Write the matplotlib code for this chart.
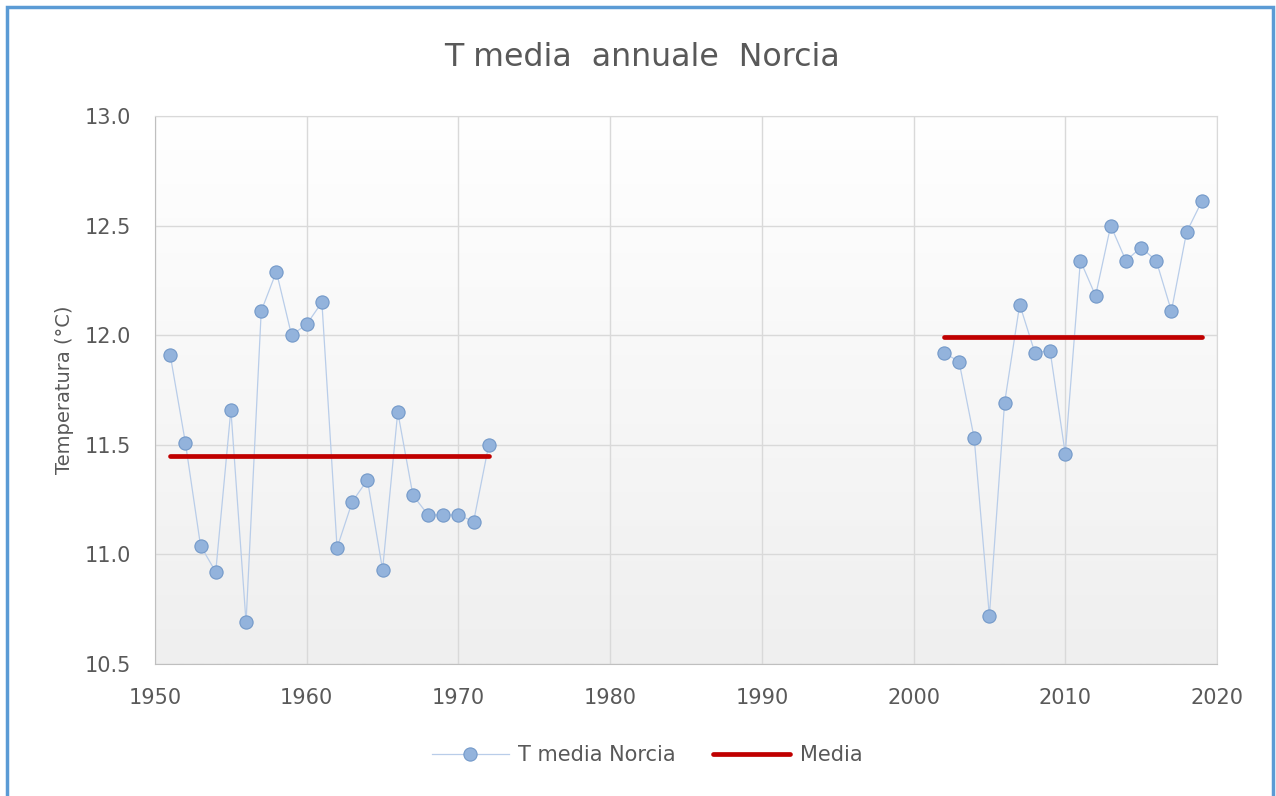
import numpy as np
import matplotlib.pyplot as plt
from matplotlib.colors import LinearSegmentedColormap
from matplotlib.patches import Rectangle

years_a = [1951, 1952, 1953, 1954, 1955, 1956, 1957, 1958, 1959, 1960, 1961,
           1962, 1963, 1964, 1965, 1966, 1967, 1968, 1969, 1970, 1971, 1972]
temp_a = [11.91, 11.51, 11.04, 10.92, 11.66, 10.69, 12.11, 12.29, 12.00, 12.05, 12.15,
          11.03, 11.24, 11.34, 10.93, 11.65, 11.27, 11.18, 11.18, 11.18, 11.15, 11.50]

years_b = [2002, 2003, 2004, 2005, 2006, 2007, 2008, 2009, 2010, 2011,
           2012, 2013, 2014, 2015, 2016, 2017, 2018, 2019]
temp_b = [11.92, 11.88, 11.53, 10.72, 11.69, 12.14, 11.92, 11.93, 11.46, 12.34,
          12.18, 12.50, 12.34, 12.40, 12.34, 12.11, 12.47, 12.61]

mean_a = 11.45
mean_b = 11.99

txt = '#595959'
plt.rcParams['font.family'] = ['DejaVu Sans']

fig = plt.figure(figsize=(12.76, 7.96), dpi=100)
ax = fig.add_axes([0.1215, 0.1658, 0.8322, 0.6885])

# light vertical gradient in the plot area (white at top)
cm = LinearSegmentedColormap.from_list('g', ['#ffffff', '#efefef'])
ax.imshow(np.linspace(0.0, 1.0, 256).reshape(-1, 1), extent=[1950, 2020, 10.5, 13.0],
          aspect='auto', cmap=cm, vmin=0, vmax=1, zorder=0, origin='upper')

line_kw = dict(color='#b9cde9', lw=0.9, marker='o', markersize=9.5,
               markerfacecolor='#93b3dc', markeredgecolor='#7399c9', markeredgewidth=0.8)
ax.plot(years_a, temp_a, label='T media Norcia', zorder=3, **line_kw)
ax.plot(years_b, temp_b, zorder=3, **line_kw)

ax.plot([years_a[0], years_a[-1]], [mean_a, mean_a], color='#c00000', lw=3.4,
        solid_capstyle='round', label='Media', zorder=4)
ax.plot([years_b[0], years_b[-1]], [mean_b, mean_b], color='#c00000', lw=3.4,
        solid_capstyle='round', zorder=4)

ax.set_xlim(1950, 2020)
ax.set_ylim(10.5, 13.0)
ax.set_xticks(range(1950, 2021, 10))
yt = np.arange(10.5, 13.01, 0.5)
ax.set_yticks(yt)
ax.set_yticklabels(['%.1f' % v for v in yt])
ax.grid(True, color='#d9d9d9', lw=1.0, zorder=1)
ax.set_axisbelow(True)
for s in ax.spines.values():
    s.set_color('#d9d9d9')
ax.spines['left'].set_color('#bfbfbf')
ax.spines['bottom'].set_color('#bfbfbf')
ax.tick_params(length=0, labelsize=15, colors=txt)
ax.tick_params(axis='y', pad=17)
ax.tick_params(axis='x', pad=17)

ax.set_ylabel('Temperatura (°C)', fontsize=14, color=txt, labelpad=8)
fig.text(0.503, 0.928, 'T media  annuale  Norcia', ha='center', va='center',
         fontsize=22.8, color=txt)

leg = fig.legend(loc='center', bbox_to_anchor=(0.507, 0.0515), ncol=2, frameon=False,
                 fontsize=15, handlelength=3.7, columnspacing=1.8, handletextpad=0.45)
for t in leg.get_texts():
    t.set_color(txt)

fig.patches.append(Rectangle((0.0055, -0.01), 0.9922, 1.0012, transform=fig.transFigure,
                             fill=False, edgecolor='#5b9bd5', lw=2.5))

fig.savefig('out.png', dpi=100)
